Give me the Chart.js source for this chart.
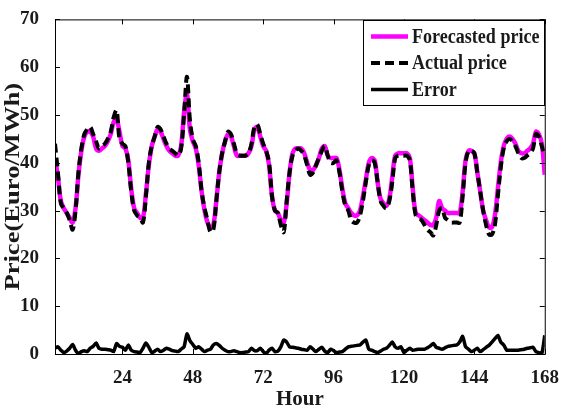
<!DOCTYPE html>
<html><head><meta charset="utf-8">
<script src="https://cdn.jsdelivr.net/npm/chart.js@4.4.0/dist/chart.umd.min.js"></script>
<style>html,body{margin:0;padding:0;background:#fff}#wrap{width:564px;height:414px;position:relative}</style>
</head><body><div id="wrap"><canvas id="c"></canvas></div>
<script>
const hours = Array.from({length:168},(_, i)=>i+1);
const xTicks = [24,48,72,96,120,144,168];
const yTicks = [0,10,20,30,40,50,60,70];
const seriesNames = ['Forecasted price','Actual price','Error'];
const yTitle = 'Price(Euro/MWh)';
const xTitle = 'Hour';

const actual = [
 44,38,31.5,30.5,29.5,28,26,30,38,43,46,47,
 47.5,46,44.5,43,43.5,44,45,46.5,49.5,51,45,44,
 43.5,40,34,30,29,28.5,27.5,33,40,43.5,45.5,47.5,
 47,45.5,44,43,42.5,42,41.5,43,50,58,49,45,
 43.5,40,34,30.5,28,25.5,26,32,38,42,44.5,46.5,
 46,44,42,41.5,41.5,41.5,42,44,47.5,48,46,44,
 42.5,40,33,30,29.5,27,25.5,32,38,41.5,42.5,43,
 42.5,41.5,39.5,37.5,38,39.5,41,42.5,43.5,41.5,40,40,
 40.5,38,34,31,30,28,27.5,27.5,29,32,36,39.5,
 40.5,40,36,32,31,30.5,32,36,41,41.5,41.5,41.5,
 41.5,40.5,34,29,28.5,28,27,26,25.5,24.8,27,30,
 30.5,28.5,28,27.5,27.5,27.5,27.5,33,40,42.5,42.5,42,
 38,34,30,27,25,25,27,33,39,43,44.5,45,
 44.5,43.5,42,41,41,41.5,42,43,46,45.5,43.5,41.5
];
const forecast = [
 41,37,32,30.5,29.5,28.5,27.5,30.5,37.5,42.5,45.5,46.5,
 46.5,45.5,43,42.5,43,43.5,44.5,46,48.5,49,46.5,43.5,
 43,40.5,34.5,30.5,29.5,28.5,28.5,33.5,39.5,43.5,45.5,47,
 46.5,45,43.5,42.5,42,41.5,41.5,43.5,50.5,54.5,47,44.5,
 43,39.5,34,30,27.5,26.5,27,32,38,42,44.5,46,
 45.5,43.5,41.5,41.5,41.5,41.5,42,43.5,47,47.5,45.5,43.5,
 42.5,39.5,33,30,29.5,28,27.5,31.5,38,42,43,43,
 43,42,40,38.5,38.5,39.5,41,43,43.5,41.5,41,41,
 41,38.5,34.5,31.5,30.5,29.5,29,29,30,33,36.5,40,
 41,40.5,36,32.5,31.5,31,32.5,37,41.5,42,42,42,
 42,41,34.5,29.5,29,28.5,28,27.5,27,27,28.5,32,
 30.5,30,29.5,29.5,29.5,29.5,29.5,34,40.5,42.5,42.5,42,
 38,34,30,28,26.5,26.5,29,34.5,40,43.5,45,45.5,
 45,44,42.5,42,42,42.5,43,44,46.5,46,44,37.5
];
const errorVals = [
 1.2,1.5,0.8,0.3,0.6,1.2,2.0,0.8,0.1,0.5,0.7,0.5,
 1.2,1.6,2.3,1.2,1.0,1.0,0.9,0.8,0.5,2.2,1.6,1.4,
 0.8,1.9,0.8,0.5,0.4,0.3,1.2,2.3,1.4,0.3,0.6,1.0,
 0.5,0.8,1.2,1.0,0.7,0.6,0.5,1.0,1.5,4.2,2.8,2.0,
 1.2,1.5,1.0,0.5,0.8,1.0,1.9,2.2,1.8,1.2,0.8,0.5,
 0.5,0.7,0.5,0.3,0.3,0.4,0.5,1.2,0.7,0.7,1.2,0.5,
 0.1,0.8,1.2,0.5,0.6,1.5,2.9,2.5,1.5,1.4,1.3,1.2,
 1.0,0.9,0.8,1.5,1.0,0.5,1.0,1.4,0.6,0.3,1.0,0.7,
 0.3,0.4,0.5,1.0,1.5,1.6,1.7,1.8,1.9,2.5,2.9,1.0,
 0.8,0.5,0.3,0.6,1.0,1.2,1.8,2.5,1.5,1.2,1.5,0.3,
 0.8,1.2,0.8,0.9,1.0,1.0,1.0,1.3,1.7,2.2,1.4,1.2,
 1.0,1.3,1.6,1.7,1.8,1.9,2.5,3.7,1.5,1.0,0.5,0.8,
 1.2,0.5,0.9,1.4,1.8,2.5,3.2,3.9,2.5,1.9,0.8,0.8,
 0.8,0.8,0.8,0.9,1.0,1.2,1.3,1.4,0.5,0.3,0.1,3.9
];

const pts = arr => arr.map((v,i)=>({x:hours[i], y:v}));
const FONT = "'Liberation Serif','Times New Roman',serif";
const TXT = '#1a1a1a';

const framePlugin = {
  id:'frame',
  afterDatasetsDraw(chart){
    const {ctx, chartArea:a, scales:{x,y}} = chart;
    ctx.save();
    ctx.strokeStyle = '#000'; ctx.lineWidth = 1;
    ctx.strokeRect(a.left+0.5, a.top+0.5, a.right-a.left, a.bottom-a.top);
    const L = 5;
    ctx.beginPath();
    xTicks.forEach(v=>{ const px = Math.round(x.getPixelForValue(v))+0.5;
      ctx.moveTo(px,a.bottom); ctx.lineTo(px,a.bottom-L);
      ctx.moveTo(px,a.top); ctx.lineTo(px,a.top+L); });
    yTicks.forEach(v=>{ const py = Math.round(y.getPixelForValue(v))+0.5;
      ctx.moveTo(a.left,py); ctx.lineTo(a.left+L,py);
      ctx.moveTo(a.right,py); ctx.lineTo(a.right-L,py); });
    ctx.stroke();
    // y axis title (stretched along its length like the reference)
    ctx.save();
    ctx.fillStyle = TXT; ctx.font = "bold 20px " + FONT;
    ctx.textAlign = 'center'; ctx.textBaseline = 'middle';
    ctx.translate(14, (a.top + a.bottom)/2);
    ctx.rotate(-Math.PI/2);
    ctx.scale(1.33, 1);
    ctx.fillText(yTitle, 0, 0);
    ctx.restore();
    // legend box
    const bx = 363, by = 20, bw = 181, bh = 85;
    ctx.fillStyle = '#fff';
    ctx.fillRect(bx, by, bw, bh);
    ctx.strokeRect(bx+0.5, by+0.5, bw, bh);
    const rows = [36.5, 63, 89.5];
    chart.data.datasets.forEach((ds,i)=>{
      const yy = rows[i];
      ctx.save();
      ctx.strokeStyle = ds.borderColor; ctx.lineWidth = ds.borderWidth;
      ctx.setLineDash(ds.borderDash || []);
      ctx.beginPath(); ctx.moveTo(371, yy); ctx.lineTo(408, yy); ctx.stroke();
      ctx.restore();
      ctx.fillStyle = TXT; ctx.font = "bold 19px " + FONT;
      ctx.textBaseline = 'middle'; ctx.textAlign = 'left';
      ctx.save();
      ctx.translate(412, yy+1); ctx.scale(0.95, 1.12);
      ctx.fillText(ds.label, 0, 0);
      ctx.restore();
    });
    ctx.restore();
  }
};

new Chart(document.getElementById('c'), {
  type:'line',
  data:{ datasets:[
    {label:seriesNames[0], data:pts(forecast), borderColor:'#ff00ff', borderWidth:4.5, pointRadius:0, tension:0.35, order:3},
    {label:seriesNames[1], data:pts(actual), borderColor:'#000000', borderWidth:4, borderDash:[9,5], pointRadius:0, tension:0.35, order:1},
    {label:seriesNames[2], data:pts(errorVals), borderColor:'#000000', borderWidth:3.5, pointRadius:0, tension:0.2, order:2}
  ]},
  options:{
    responsive:true, maintainAspectRatio:false, animation:false,
    layout:{padding:{left:0, top:14, right:13, bottom:0}},
    plugins:{legend:{display:false}, tooltip:{enabled:false}},
    scales:{
      x:{ type:'linear', min:1, max:168,
        afterBuildTicks:s=>{ s.ticks = xTicks.map(v=>({value:v})); },
        afterFit:s=>{ s.height = 60; },
        grid:{display:false}, border:{display:false},
        ticks:{ font:{family:FONT, size:19, weight:'bold'}, color:TXT, padding:5, maxRotation:0, autoSkip:false },
        title:{display:true, text:xTitle, font:{family:FONT, size:21, weight:'bold'}, color:TXT, padding:{top:0,bottom:2}}
      },
      y:{ min:0, max:70,
        afterBuildTicks:s=>{ s.ticks = yTicks.map(v=>({value:v})); },
        afterFit:s=>{ s.width = 55; },
        grid:{display:false}, border:{display:false},
        ticks:{ font:{family:FONT, size:19, weight:'bold'}, color:TXT, padding:8 },
        title:{display:false}
      }
    }
  },
  plugins:[framePlugin]
});
</script></body></html>
